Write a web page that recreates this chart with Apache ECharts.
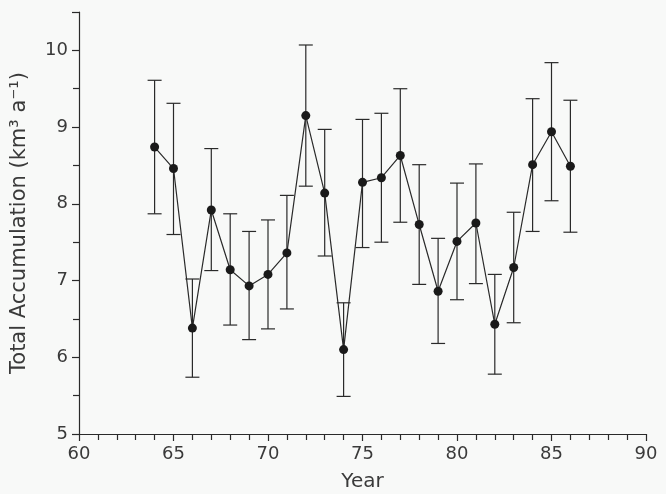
<!DOCTYPE html>
<html>
<head>
<meta charset="utf-8">
<script src="https://cdn.jsdelivr.net/npm/echarts@6/dist/echarts.min.js"></script>
<style>
  html, body { margin: 0; padding: 0; background: #f8f9f8; }
  #chart { width: 666px; height: 494px; }
</style>
</head>
<body>
<div id="chart"></div>
<script>
// year of record (19xx)
const years = [64, 65, 66, 67, 68, 69, 70, 71, 72, 73, 74, 75, 76, 77, 78, 79, 80, 81, 82, 83, 84, 85, 86]
// total accumulation, km3 per year
const accumulation = [8.74, 8.46, 6.38, 7.92, 7.14, 6.93, 7.08, 7.36, 9.15, 8.14, 6.10, 8.28, 8.34, 8.63, 7.73, 6.86, 7.51, 7.75, 6.43, 7.17, 8.51, 8.94, 8.49]
// error bar ends
const upper = [9.61, 9.31, 7.02, 8.72, 7.87, 7.64, 7.79, 8.11, 10.07, 8.97, 6.71, 9.10, 9.18, 9.50, 8.51, 7.55, 8.27, 8.52, 7.08, 7.89, 9.37, 9.84, 9.35]
const lower = [7.87, 7.60, 5.74, 7.13, 6.42, 6.23, 6.37, 6.63, 8.23, 7.32, 5.49, 7.43, 7.50, 7.76, 6.95, 6.18, 6.75, 6.96, 5.78, 6.45, 7.64, 8.04, 7.63]

const ink = '#2a2a2a'
const textColor = '#3a3a3a'
const font = 'DejaVu Sans'

const chart = echarts.init(document.getElementById('chart'))

const errData = years.map((y, i) => [y, lower[i], upper[i]])

chart.setOption({
  backgroundColor: '#f8f9f8',
  animation: false,
  grid: { left: 79, right: 20, top: 12, bottom: 60, outerBoundsMode: 'none', containLabel: false },
  xAxis: {
    type: 'value',
    min: 60,
    max: 90,
    interval: 5,
    name: 'Year',
    nameLocation: 'middle',
    nameGap: 38,
    nameTextStyle: { color: textColor, fontSize: 20, fontFamily: font },
    axisLine: { lineStyle: { color: ink, width: 1.2 } },
    axisTick: { show: true, inside: false, length: 7, lineStyle: { color: ink, width: 1.2 } },
    minorTick: { show: true, splitNumber: 5, length: 6, lineStyle: { color: ink, width: 1.2 } },
    axisLabel: { color: textColor, fontSize: 18, fontFamily: font, margin: 11 },
    splitLine: { show: false }
  },
  yAxis: {
    type: 'value',
    min: 5,
    max: 10.5,
    interval: 1,
    name: 'Total Accumulation (km³ a⁻¹)',
    nameLocation: 'middle',
    nameGap: 49,
    nameTextStyle: { color: textColor, fontSize: 21, fontFamily: font },
    axisLine: { show: true, lineStyle: { color: ink, width: 1.2 } },
    axisTick: { show: true, length: 7, lineStyle: { color: ink, width: 1.2 } },
    minorTick: { show: true, splitNumber: 2, length: 6, lineStyle: { color: ink, width: 1.2 } },
    axisLabel: { color: textColor, fontSize: 18, fontFamily: font, margin: 11, showMaxLabel: false },
    splitLine: { show: false }
  },
  series: [
    {
      type: 'custom',
      data: errData,
      z: 1,
      renderItem: function (params, api) {
        const x = api.value(0)
        const lo = api.coord([x, api.value(1)])
        const hi = api.coord([x, api.value(2)])
        const cap = 7
        const style = { stroke: ink, lineWidth: 1.2 }
        return {
          type: 'group',
          children: [
            { type: 'line', shape: { x1: lo[0], y1: lo[1], x2: hi[0], y2: hi[1] }, style: style },
            { type: 'line', shape: { x1: lo[0] - cap, y1: lo[1], x2: lo[0] + cap, y2: lo[1] }, style: style },
            { type: 'line', shape: { x1: hi[0] - cap, y1: hi[1], x2: hi[0] + cap, y2: hi[1] }, style: style }
          ]
        }
      }
    },
    {
      type: 'line',
      data: years.map((y, i) => [y, accumulation[i]]),
      z: 2,
      symbol: 'circle',
      symbolSize: 9,
      lineStyle: { color: ink, width: 1.2 },
      itemStyle: { color: '#1a1a1a' }
    }
  ]
})
</script>
</body>
</html>
